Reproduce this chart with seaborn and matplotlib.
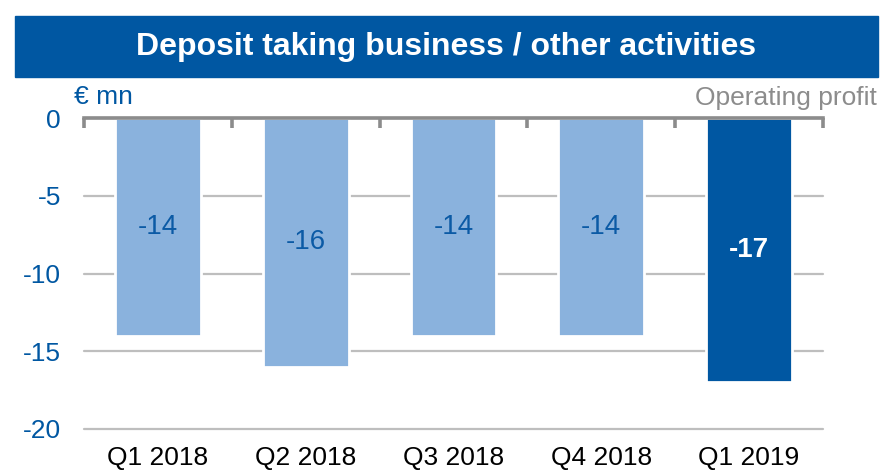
import numpy as np
import pandas as pd
import seaborn as sns
import matplotlib.pyplot as plt
from matplotlib.patches import Rectangle

# data
quarters = ['Q1 2018', 'Q2 2018', 'Q3 2018', 'Q4 2018', 'Q1 2019']
operating_profit = [-14, -16, -14, -14, -17]
bar_colors = ['#8AB2DD', '#8AB2DD', '#8AB2DD', '#8AB2DD', '#0057A2']
label_colors = ['#0B5AA5', '#0B5AA5', '#0B5AA5', '#0B5AA5', 'white']
label_weights = ['normal', 'normal', 'normal', 'normal', 'bold']
y_ticks = [0, -5, -10, -15, -20]

blue = '#0057A2'
grey_axis = '#8C8C8C'
grey_grid = '#BEBEBE'

sns.set_style('white')
plt.rcParams['font.family'] = ['Liberation Sans', 'DejaVu Sans']

df = pd.DataFrame({'quarter': quarters, 'value': operating_profit})

fig = plt.figure(figsize=(8.81, 4.72), dpi=100)
ax = fig.add_axes([84 / 881, 1 - 429 / 472, (823 - 84) / 881, (429 - 118) / 472])

# title banner
fig.patches.append(Rectangle((15 / 881, 1 - 77 / 472), (878 - 15) / 881, 61 / 472,
                             transform=fig.transFigure, color=blue, zorder=0))
fig.text(446 / 881, 1 - 47 / 472, 'Deposit taking business / other activities',
         ha='center', va='center', color='white', fontsize=23, fontweight='bold')

sns.barplot(data=df, x='quarter', y='value', hue='quarter', palette=bar_colors,
            legend=False, width=0.58, edgecolor='white', linewidth=2,
            saturation=1, ax=ax, zorder=2)

for i, cont in enumerate(ax.containers):
    ax.bar_label(cont, labels=[str(operating_profit[i])], label_type='center',
                 color=label_colors[i], fontsize=20, fontweight=label_weights[i])

ax.set_ylim(-20, 0)
ax.set_xlim(-0.5, len(quarters) - 0.5)
ax.set_yticks(y_ticks)
ax.set_yticklabels([str(t) for t in y_ticks])
ax.set_xlabel('')
ax.set_ylabel('')

ax.yaxis.grid(True, color=grey_grid, linewidth=1.6, zorder=1)
ax.set_axisbelow(True)
for gl in ax.get_ygridlines():
    gl.set_clip_on(False)

for side in ['left', 'right', 'bottom']:
    ax.spines[side].set_visible(False)
ax.spines['top'].set_color(grey_axis)
ax.spines['top'].set_linewidth(2.6)
ax.spines['top'].set_zorder(5)

# category boundary ticks on the zero line
ax.set_xticks(np.arange(-0.5, len(quarters)), minor=True)
ax.tick_params(axis='x', which='minor', top=True, bottom=False, direction='in',
               length=7, width=2.6, color=grey_axis)
ax.tick_params(axis='x', which='major', bottom=False, top=False, labelsize=19,
               labelcolor='black', pad=9)
ax.tick_params(axis='y', left=False, labelsize=19, labelcolor=blue, pad=13)

fig.text(74 / 881, 1 - 97 / 472, '€ mn', ha='left', va='center', color=blue, fontsize=19)
fig.text(877 / 881, 1 - 98 / 472, 'Operating profit', ha='right', va='center',
         color=grey_axis, fontsize=19)

fig.savefig('out.png', dpi=100)
